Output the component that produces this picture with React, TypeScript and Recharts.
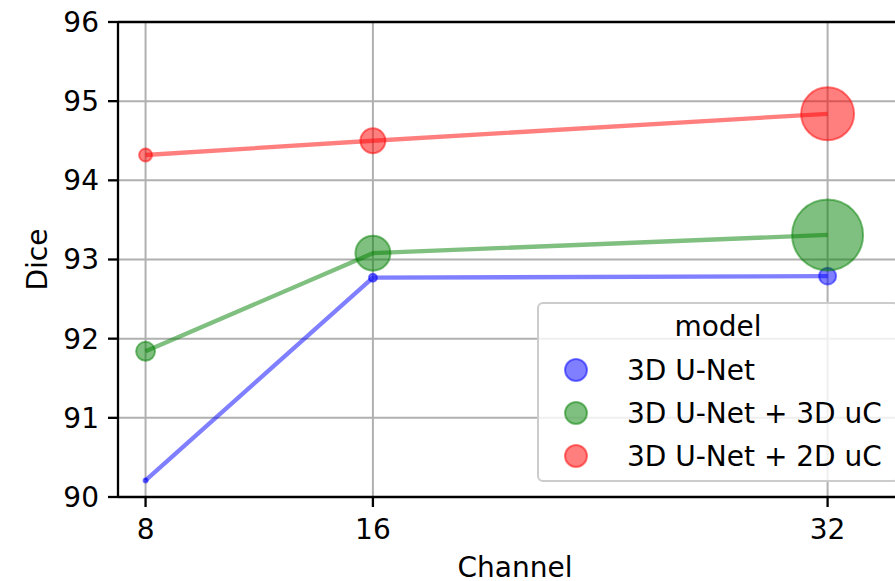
import React from 'react';
import { ScatterChart, Scatter, XAxis, YAxis, ZAxis, CartesianGrid, ReferenceLine } from 'recharts';

const channels = [8, 16, 32];
const unetDice = [90.21, 92.77, 92.79];
const unet3dDice = [91.84, 93.08, 93.31];
const unet2dDice = [94.32, 94.5, 94.84];
const unetSize = [4, 16, 72];
const unet3dSize = [90, 306, 1260];
const unet2dSize = [42, 156, 702];
const yTicks = [90, 91, 92, 93, 94, 95, 96];
const seriesNames = ['3D U-Net', '3D U-Net + 3D uC', '3D U-Net + 2D uC'];
const seriesColors = ['#0000ff', '#008000', '#ff0000'];
const legendTitle = 'model';

const build = (ys: number[], zs: number[]) => channels.map((c, i) => ({ x: c, y: ys[i], z: zs[i] }));
const seriesData = [build(unetDice, unetSize), build(unet3dDice, unet3dSize), build(unet2dDice, unet2dSize)];

const FONT = 'DejaVu Sans';
const FS = 28;
const maxZ = 1260;

const YLabel = (props: any) => {
  const vb = props.viewBox || {};
  const x = vb.x + 37;
  const y = vb.y + vb.height / 2;
  return (
    <text x={x} y={y} transform={`rotate(-90 ${x} ${y})`} textAnchor="middle" dominantBaseline="central"
      fontFamily={FONT} fontSize={FS} fill="#000">Dice</text>
  );
};

export default function App() {
  return (
    <div style={{ position: 'absolute', left: 0, top: 0, width: 895, height: 581, overflow: 'hidden', background: '#fff' }}>
      <ScatterChart width={930} height={581} margin={{ top: 22, right: 18, bottom: 0, left: 0 }}>
        <CartesianGrid stroke="#b0b0b0" strokeWidth={2} />
        <XAxis type="number" dataKey="x" domain={[7.03, 34.97]} ticks={channels} allowDataOverflow
          height={84} tickSize={10} tickMargin={12}
          axisLine={{ stroke: '#000', strokeWidth: 2.3 }} tickLine={{ stroke: '#000', strokeWidth: 2.3 }}
          tick={{ fill: '#000', fontSize: FS, fontFamily: FONT }}
          label={{ value: 'Channel', position: 'insideBottom', offset: 4, fill: '#000', fontSize: FS, fontFamily: FONT }} />
        <YAxis type="number" dataKey="y" domain={[90, 96]} ticks={yTicks} allowDataOverflow
          width={118} tickSize={10} tickMargin={9}
          axisLine={{ stroke: '#000', strokeWidth: 2.3 }} tickLine={{ stroke: '#000', strokeWidth: 2.3 }}
          tick={{ fill: '#000', fontSize: FS, fontFamily: FONT }}
          label={<YLabel />} />
        <ZAxis type="number" dataKey="z" domain={[0, maxZ]} range={[0, maxZ * Math.PI]} />
        <ReferenceLine y={96} stroke="#000" strokeWidth={2.3} />
        {seriesData.map((d, i) => (
          <Scatter key={seriesNames[i]} name={seriesNames[i]} data={d} isAnimationActive={false}
            fill={seriesColors[i]} fillOpacity={0.5} stroke={seriesColors[i]} strokeOpacity={0.5} strokeWidth={2}
            line={{ stroke: seriesColors[i], strokeOpacity: 0.5, strokeWidth: 4.3, fill: 'none', fillOpacity: 0 }}
            lineType="joint" />
        ))}
      </ScatterChart>
      <div style={{
        position: 'absolute', left: 537, top: 302, width: 362, height: 180, boxSizing: 'border-box',
        border: '2px solid #cccccc', borderRadius: 6, background: 'rgba(255,255,255,0.8)',
        fontFamily: FONT, fontSize: FS, color: '#000',
      }}>
        <div style={{ position: 'absolute', left: 0, right: 0, top: 3, height: 40, lineHeight: '40px', textAlign: 'center' }}>{legendTitle}</div>
        {seriesNames.map((n, i) => (
          <div key={n} style={{ position: 'absolute', left: 0, top: 46 + i * 43, height: 40, width: 400, display: 'flex', alignItems: 'center' }}>
            <svg width={30} height={30} style={{ marginLeft: 22 }}>
              <circle cx={15} cy={15} r={11} fill={seriesColors[i]} fillOpacity={0.5} stroke={seriesColors[i]} strokeOpacity={0.5} strokeWidth={2} />
            </svg>
            <span style={{ marginLeft: 36, whiteSpace: 'nowrap' }}>{n}</span>
          </div>
        ))}
      </div>
    </div>
  );
}
